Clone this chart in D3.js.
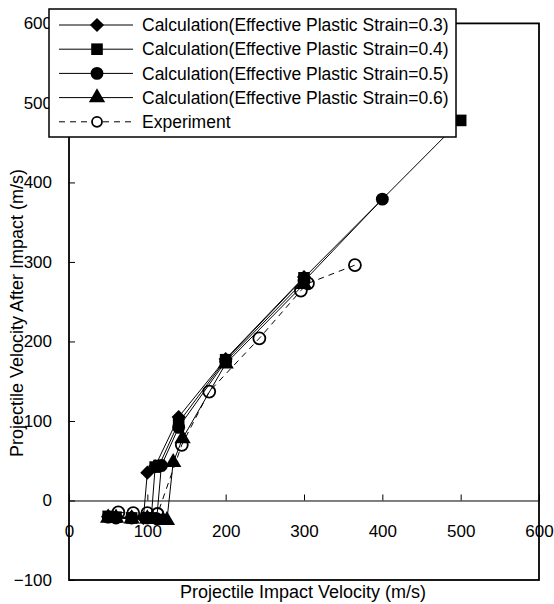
<!DOCTYPE html>
<html>
<head>
<meta charset="utf-8">
<script src="https://cdn.jsdelivr.net/npm/d3@7"></script>
<style>
  body { margin: 0; background: #ffffff; }
  svg { display: block; font-family: 'Liberation Sans', Arial, sans-serif; }
</style>
</head>
<body>
<svg id="chart" width="554" height="604"></svg>
<script>
// values: [impact velocity, velocity after impact]
const strain03 = [[50, -20], [60, -21], [80, -21], [95, -22], [100, 35], [110, 43], [140, 105], [200, 178], [300, 281]];
const strain04 = [[50, -20], [60, -21], [80, -22], [100, -22], [105, -22], [110, 42], [115, 44], [140, 98], [200, 177], [300, 280], [500, 478]];
const strain05 = [[50, -21], [60, -22], [80, -22], [100, -22], [112, -23], [118, 44], [140, 92], [200, 175], [300, 276], [400, 379]];
const strain06 = [[50, -22], [60, -22], [80, -23], [100, -23], [120, -25], [125, -25], [133, 48], [145, 78], [200, 172], [300, 272]];
const experiment = [[63, -15], [82, -16], [100, -16], [113, -17], [144, 70], [179, 137], [243, 204], [296, 264], [305, 273], [365, 296]];

const legendLabels = [
  'Calculation(Effective Plastic Strain=0.3)',
  'Calculation(Effective Plastic Strain=0.4)',
  'Calculation(Effective Plastic Strain=0.5)',
  'Calculation(Effective Plastic Strain=0.6)',
  'Experiment',
];
const xTicks = [0, 100, 200, 300, 400, 500, 600];
const yTicks = [-100, 0, 100, 200, 300, 400, 500, 600];
const xTitle = 'Projectile Impact Velocity (m/s)';
const yTitle = 'Projectile Velocity After Impact (m/s)';

const width = 554;
const height = 604;
const margin = {
  top: 23.4, right: 15, bottom: 24, left: 69,
};

const svg = d3.select('#chart');

const x = d3.scaleLinear()
  .domain([0, 600])
  .range([margin.left, width - margin.right]);

const y = d3.scaleLinear()
  .domain([-100, 600])
  .range([height - margin.bottom, margin.top]);

// marker shapes, one per series
const markers = [
  { path: d3.symbol(d3.symbolSquare, 100)(), rotate: 45 },
  { path: d3.symbol(d3.symbolSquare, 135)(), rotate: 0 },
  { path: d3.symbol(d3.symbolCircle, 130)(), rotate: 0 },
  { path: d3.symbol(d3.symbolTriangle, 115)(), rotate: 0 },
];

// y axis: ticks pointing inside, labels on the left
svg.append('g')
  .attr('transform', `translate(${margin.left},0)`)
  .call(d3.axisLeft(y).tickValues(yTicks).tickSizeInner(-6).tickSizeOuter(0).tickPadding(17))
  .call((g) => g.select('.domain').remove())
  .call((g) => g.selectAll('text').attr('font-size', 17).attr('fill', '#000').attr('font-family', null))
  .call((g) => g.selectAll('line').attr('stroke', '#000'));

// x axis sits on y = 0, ticks pointing up
svg.append('g')
  .attr('transform', `translate(0,${y(0)})`)
  .call(d3.axisBottom(x).tickValues(xTicks).tickSizeInner(-6).tickSizeOuter(0).tickPadding(24))
  .call((g) => g.select('.domain').attr('stroke', '#000'))
  .call((g) => g.selectAll('text').attr('font-size', 17).attr('fill', '#000').attr('font-family', null))
  .call((g) => g.selectAll('line').attr('stroke', '#000'));

const line = d3.line()
  .x((d) => x(d[0]))
  .y((d) => y(d[1]));

const calcSeries = [strain03, strain04, strain05, strain06];

calcSeries.forEach((series, i) => {
  svg.append('path')
    .datum(series)
    .attr('fill', 'none')
    .attr('stroke', '#000')
    .attr('stroke-width', 1)
    .attr('d', line);

  svg.append('g')
    .selectAll('path')
    .data(series)
    .join('path')
    .attr('d', markers[i].path)
    .attr('transform', (d) => `translate(${x(d[0])},${y(d[1])}) rotate(${markers[i].rotate})`)
    .attr('fill', '#000');
});

svg.append('path')
  .datum(experiment)
  .attr('fill', 'none')
  .attr('stroke', '#000')
  .attr('stroke-width', 1)
  .attr('stroke-dasharray', '6,5')
  .attr('d', line);

svg.append('g')
  .selectAll('circle')
  .data(experiment)
  .join('circle')
  .attr('cx', (d) => x(d[0]))
  .attr('cy', (d) => y(d[1]))
  .attr('r', 6)
  .attr('fill', 'none')
  .attr('stroke', '#000')
  .attr('stroke-width', 1.8);

// plot frame
svg.append('rect')
  .attr('x', margin.left)
  .attr('y', margin.top)
  .attr('width', width - margin.left - margin.right)
  .attr('height', height - margin.top - margin.bottom)
  .attr('fill', 'none')
  .attr('stroke', '#000')
  .attr('stroke-width', 1.8);

// axis titles
svg.append('text')
  .attr('x', 303)
  .attr('y', 598)
  .attr('text-anchor', 'middle')
  .attr('font-size', 18)
  .text(xTitle);

svg.append('text')
  .attr('transform', 'translate(23,313) rotate(-90)')
  .attr('text-anchor', 'middle')
  .attr('font-size', 18)
  .text(yTitle);

// legend
const legend = svg.append('g');
legend.append('rect')
  .attr('x', 49)
  .attr('y', 9)
  .attr('width', 407)
  .attr('height', 128)
  .attr('fill', '#fff')
  .attr('stroke', '#000')
  .attr('stroke-width', 1.5);

const rowY = (i) => 25 + i * 24.2;

legendLabels.forEach((label, i) => {
  const ly = rowY(i);
  legend.append('line')
    .attr('x1', 59)
    .attr('x2', 133)
    .attr('y1', ly)
    .attr('y2', ly)
    .attr('stroke', '#000')
    .attr('stroke-width', 1)
    .attr('stroke-dasharray', i === 4 ? '6,5' : null);

  if (i < 4) {
    legend.append('path')
      .attr('d', markers[i].path)
      .attr('transform', `translate(97,${ly}) rotate(${markers[i].rotate})`)
      .attr('fill', '#000');
  } else {
    legend.append('circle')
      .attr('cx', 97)
      .attr('cy', ly)
      .attr('r', 5)
      .attr('fill', '#fff')
      .attr('stroke', '#000')
      .attr('stroke-width', 1.8);
  }

  legend.append('text')
    .attr('x', 142)
    .attr('y', ly)
    .attr('dy', '0.35em')
    .attr('font-size', 17.5)
    .text(label);
});
</script>
</body>
</html>
